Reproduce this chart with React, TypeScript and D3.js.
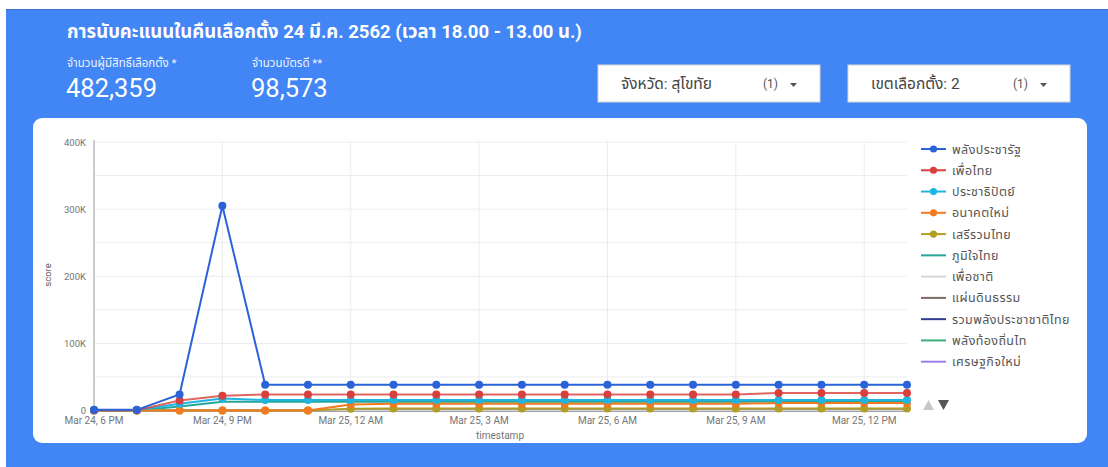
import React from "react";
import * as d3 from "d3";

const W = 1108;
const H = 467;

const hours: number[] = [18, 19, 20, 21, 22, 23, 24, 25, 26, 27, 28, 29, 30, 31, 32, 33, 34, 35, 36, 37];
const times: Date[] = hours.map((h) => new Date(Date.UTC(2019, 2, 24, h, 0, 0)));

const seriesNames: string[] = [
  "พลังประชารัฐ",
  "เพื่อไทย",
  "ประชาธิปัตย์",
  "อนาคตใหม่",
  "เสรีรวมไทย",
  "ภูมิใจไทย",
  "เพื่อชาติ",
  "แผ่นดินธรรม",
  "รวมพลังประชาชาติไทย",
  "พลังท้องถิ่นไท",
  "เศรษฐกิจใหม่",
];
const seriesColors: string[] = [
  "#2a63d8",
  "#d93f3c",
  "#20b5e0",
  "#f27b22",
  "#b39d22",
  "#26a69a",
  "#d6d6d6",
  "#7d6b60",
  "#2e3d8f",
  "#38ad7c",
  "#9c7df0",
];
const seriesDots: boolean[] = [true, true, true, true, true, false, false, false, false, false, false];

const palangPracharat: number[] = [1000, 1000, 24000, 305000, 38400, 38400, 38400, 38400, 38400, 38400, 38400, 38400, 38400, 38400, 38400, 38400, 38400, 38400, 38400, 38400];
const peuaThai: number[] = [500, 500, 15000, 22000, 24000, 24000, 24000, 24000, 24000, 24000, 24000, 24000, 24000, 24000, 24000, 24000, 26000, 26000, 26000, 26000];
const prachathipat: number[] = [300, 300, 10000, 18000, 15500, 15500, 15500, 15500, 15500, 15500, 15500, 15500, 15500, 15500, 15500, 15500, 15500, 15500, 15500, 15500];
const anakotMai: number[] = [0, 0, 0, 0, 0, 0, 9000, 10000, 10000, 10000, 10000, 10000, 10000, 10000, 10000, 10000, 11000, 11000, 11000, 11000];
const seriRuamThai: number[] = [0, 0, 0, 0, 0, 0, 2500, 2800, 2800, 2800, 2800, 2800, 2800, 2800, 2800, 2800, 2800, 2800, 2800, 2800];
const bhumjaithai: number[] = [0, 0, 6000, 13000, 13000, 13000, 13000, 13000, 13000, 13000, 13000, 13000, 13000, 13000, 13000, 13000, 13500, 13500, 13500, 13500];
const peuaChart: number[] = [0, 0, 0, 0, 0, 0, 0, 0, 0, 0, 0, 0, 0, 0, 0, 0, 0, 0, 0, 0];
const phaendinTham: number[] = [0, 0, 0, 0, 0, 0, 0, 0, 0, 0, 0, 0, 0, 0, 0, 0, 0, 0, 0, 0];
const ruamPalang: number[] = [0, 0, 0, 0, 0, 0, 0, 0, 0, 0, 0, 0, 0, 0, 0, 0, 0, 0, 0, 0];
const palangTongtin: number[] = [0, 0, 0, 0, 0, 0, 0, 0, 0, 0, 0, 0, 0, 0, 0, 0, 0, 0, 0, 0];
const settakitMai: number[] = [0, 0, 0, 0, 0, 0, 0, 0, 0, 0, 0, 0, 0, 0, 0, 0, 0, 0, 0, 0];

const seriesValues: number[][] = [
  palangPracharat,
  peuaThai,
  prachathipat,
  anakotMai,
  seriRuamThai,
  bhumjaithai,
  peuaChart,
  phaendinTham,
  ruamPalang,
  palangTongtin,
  settakitMai,
];

const yTicks: number[] = [0, 100000, 200000, 300000, 400000];
const yGrid: number[] = [50000, 100000, 150000, 200000, 250000, 300000, 350000, 400000];
const xTickHours: number[] = [18, 21, 24, 27, 30, 33, 36];

const titleText = "การนับคะแนนในคืนเลือกตั้ง 24 มี.ค. 2562 (เวลา 18.00 - 13.00 น.)";
const kpiLabels: string[] = ["จำนวนผู้มีสิทธิ์เลือกตั้ง *", "จำนวนบัตรดี **"];
const kpiValues: string[] = ["482,359", "98,573"];
const filterLabels: string[] = ["จังหวัด: สุโขทัย", "เขตเลือกตั้ง: 2"];

const FONT = "Roboto, 'Noto Sans Thai', 'Noto Sans', 'DejaVu Sans', sans-serif";

export default function App() {
  const x = d3
    .scaleTime()
    .domain([times[0], times[times.length - 1]])
    .range([94, 907]);
  const y = d3.scaleLinear().domain([0, 400000]).range([410.5, 142]);
  const line = d3
    .line<number>()
    .x((_, i) => x(times[i]))
    .y((d) => y(d));
  const fmtTime = (d: Date) => {
    const h = d.getUTCHours();
    const h12 = h % 12 === 0 ? 12 : h % 12;
    const ap = h < 12 ? "AM" : "PM";
    return `${d3.utcFormat("%b %-d")(d)}, ${h12} ${ap}`;
  };
  const fmtY = (v: number) => (v === 0 ? "0" : `${v / 1000}K`);

  const drawOrder = seriesValues.map((_, i) => i).reverse();

  return (
    <svg
      width={W}
      height={H}
      style={{ position: "absolute", left: 0, top: 0, fontFamily: FONT }}
    >
      <rect x={0} y={0} width={W} height={H} fill="#ffffff" />
      <rect x={6} y={9} width={W - 6} height={H - 9} fill="#4285f4" />
      <line x1={6} x2={W} y1={9.5} y2={9.5} stroke="#3b6fc9" strokeWidth={1} />

      <text x={67} y={38} fill="#ffffff" fontSize={18.5} fontWeight={700}>
        {titleText}
      </text>
      {kpiLabels.map((t, i) => (
        <text key={t} x={i === 0 ? 67 : 252} y={67} fill="#ffffff" fontSize={11.5} opacity={0.9}>
          {t}
        </text>
      ))}
      {kpiValues.map((t, i) => (
        <text key={t} x={i === 0 ? 66 : 251} y={97} fill="#ffffff" fontSize={25.5}>
          {t}
        </text>
      ))}

      {filterLabels.map((t, i) => {
        const bx = i === 0 ? 598 : 848;
        return (
          <g key={t}>
            <rect x={bx} y={65} width={222} height={37} fill="#ffffff" stroke="#d5d5d5" />
            <text x={bx + 23} y={89} fill="#444444" fontSize={15.5}>
              {t}
            </text>
            <text x={bx + 165} y={88} fill="#555555" fontSize={12}>
              (1)
            </text>
            <path d={`M${bx + 192},${83} l7,0 l-3.5,4 z`} fill="#555555" />
          </g>
        );
      })}

      <rect x={33} y={118} width={1054} height={325} rx={9} fill="#ffffff" />

      {/* grid */}
      {yGrid.map((v) => (
        <line key={v} x1={94} x2={907} y1={y(v)} y2={y(v)} stroke="#ececec" strokeWidth={1} />
      ))}
      {xTickHours.map((h) => {
        const d = new Date(Date.UTC(2019, 2, 24, h));
        return <line key={h} x1={x(d)} x2={x(d)} y1={142} y2={410.5} stroke="#ececec" strokeWidth={1} />;
      })}
      <line x1={94} x2={94} y1={140} y2={411} stroke="#bdbdbd" strokeWidth={1.5} />

      {yTicks.map((v) => (
        <text key={v} x={86} y={y(v) + 3.5} fontSize={9.5} fill="#757575" textAnchor="end">
          {fmtY(v)}
        </text>
      ))}
      <text
        transform={`translate(51,275) rotate(-90)`}
        fontSize={9.5}
        fill="#616161"
        textAnchor="middle"
      >
        score
      </text>
      {xTickHours.map((h) => {
        const d = new Date(Date.UTC(2019, 2, 24, h));
        return (
          <text key={h} x={x(d)} y={424} fontSize={10} fill="#757575" textAnchor="middle">
            {fmtTime(d)}
          </text>
        );
      })}
      <text x={500} y={439} fontSize={10} fill="#757575" textAnchor="middle">
        timestamp
      </text>

      {/* lines */}
      {drawOrder.map((si) => (
        <path
          key={seriesNames[si]}
          d={line(seriesValues[si]) || ""}
          fill="none"
          stroke={seriesColors[si]}
          strokeWidth={2}
          strokeOpacity={si === 1 ? 0.8 : 1}
        />
      ))}
      {drawOrder
        .filter((si) => seriesDots[si])
        .map((si) => (
          <g key={`dots-${si}`}>
            {seriesValues[si].map((v, i) => (
              <circle key={i} cx={x(times[i])} cy={y(v)} r={4} fill={seriesColors[si]} />
            ))}
          </g>
        ))}

      {/* legend */}
      {seriesNames.map((n, i) => {
        const ly = 149 + i * 21.27;
        return (
          <g key={n}>
            <line x1={921} x2={946} y1={ly} y2={ly} stroke={seriesColors[i]} strokeWidth={2} />
            {seriesDots[i] && <circle cx={933.5} cy={ly} r={3.6} fill={seriesColors[i]} />}
            <text x={952} y={ly + 4.5} fontSize={12.5} fill="#555555" letterSpacing={0.4}>
              {n}
            </text>
          </g>
        );
      })}
      <path d="M923,410 l5.5,-10 l5.5,10 z" fill="#c8c8c8" />
      <path d="M938,400 l11,0 l-5.5,10 z" fill="#555555" />
    </svg>
  );
}
